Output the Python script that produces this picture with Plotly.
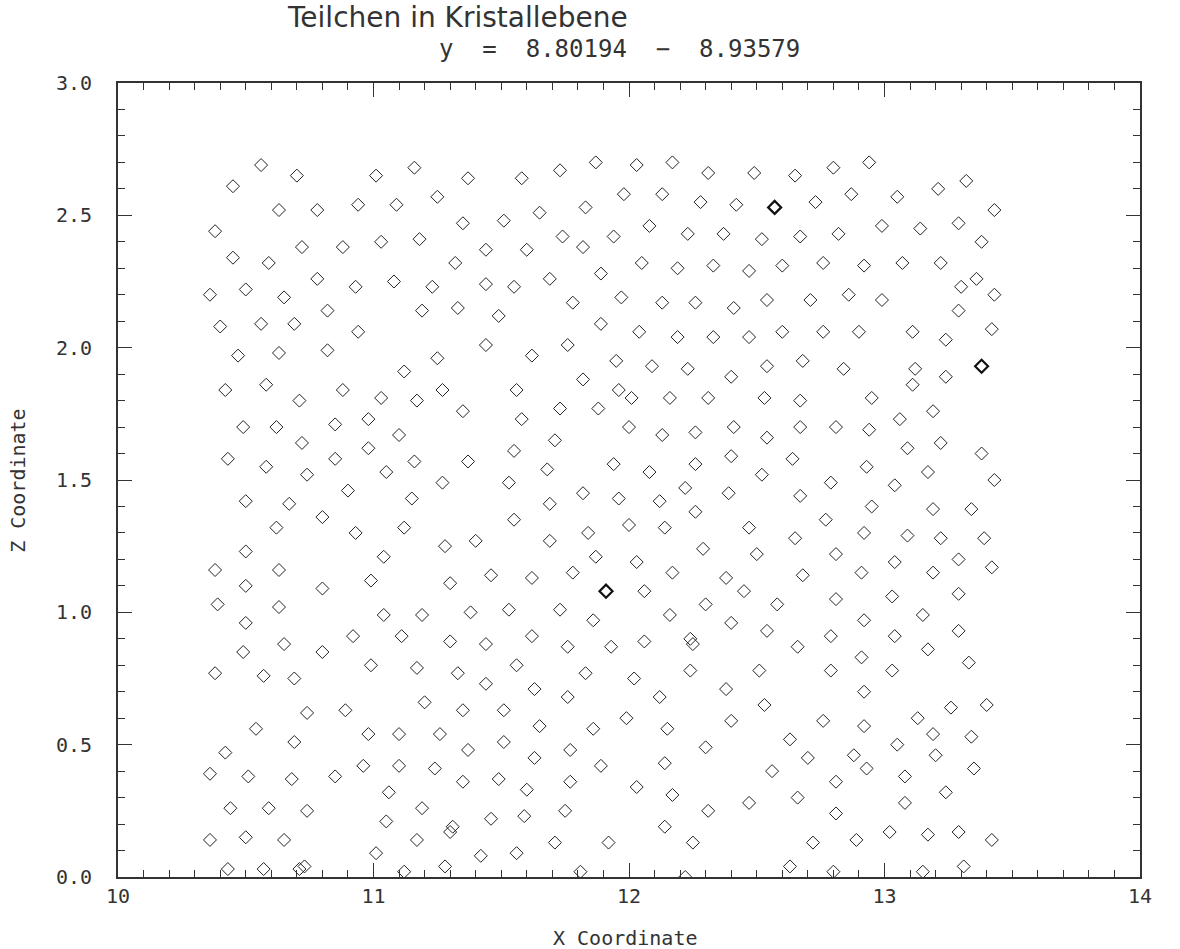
import plotly.graph_objects as go

# Particle positions in the crystal plane (x, z)
x_coord = [
    10.56, 10.45, 10.70, 11.01, 10.63, 10.78, 10.94, 11.09, 10.38, 10.72, 10.88, 11.03, 10.45, 10.59, 10.78, 10.93, 11.08,
    10.36, 10.50, 10.65, 10.82, 10.40, 10.56, 10.69, 10.94, 10.47, 10.63, 10.82, 10.42, 10.58, 10.88, 11.03, 10.71, 11.12,
    11.16, 11.37, 11.58, 11.73, 11.87, 11.25, 11.35, 11.51, 11.65, 11.83, 11.18, 11.44, 11.60, 11.74, 11.82, 11.32, 11.23,
    11.44, 11.55, 11.69, 11.89, 11.19, 11.33, 11.49, 11.78, 11.89, 11.44, 11.25, 11.62, 11.76, 11.27, 11.56, 11.82, 11.17,
    12.03, 12.17, 12.31, 12.49, 12.65, 11.98, 12.13, 12.28, 12.42, 11.94, 12.08, 12.23, 12.37, 12.52, 12.67, 12.05, 12.19,
    12.33, 12.47, 12.60, 11.97, 12.13, 12.26, 12.41, 12.54, 12.04, 12.19, 12.33, 12.47, 12.60, 11.95, 12.09, 12.23, 12.40,
    12.54, 12.68, 11.96, 12.01, 12.16, 12.31, 12.53, 12.67,
    12.80, 12.94, 13.32, 13.21, 12.73, 12.87, 13.05, 13.43, 12.82, 12.99, 13.14, 13.29, 13.38, 12.76, 12.92, 13.07, 13.22,
    13.36, 13.30, 13.43, 12.71, 12.86, 12.99, 13.29, 12.76, 12.90, 13.11, 13.24, 13.42, 12.84, 13.12, 13.11, 13.24, 12.95,
    10.49, 10.62, 10.85, 10.98, 11.10, 10.72, 10.98, 10.43, 10.58, 10.74, 10.85, 11.05, 10.90, 10.50, 10.67, 10.80, 10.62,
    10.93, 11.12, 10.50, 11.04, 10.38, 10.63, 10.50, 10.80, 10.99, 10.39, 10.63, 11.04, 10.50, 10.92, 11.11, 10.65, 10.49,
    11.35, 11.58, 11.73, 11.88, 11.71, 11.16, 11.37, 11.55, 11.68, 11.27, 11.53, 11.82, 11.15, 11.69, 11.55, 11.28, 11.40,
    11.69, 11.84, 11.87, 11.46, 11.30, 11.62, 11.78, 11.19, 11.38, 11.53, 11.73, 11.86, 11.30, 11.44, 11.62, 11.76,
    12.00, 12.13, 12.26, 12.41, 12.54, 12.67, 11.94, 12.08, 12.26, 12.40, 12.52, 12.64, 11.96, 12.12, 12.22, 12.39, 12.67,
    12.00, 12.14, 12.26, 12.47, 12.65, 12.03, 12.29, 12.50, 12.17, 12.38, 12.06, 12.45, 12.58, 12.68, 12.30, 12.16, 12.40,
    12.54, 12.06, 12.24, 12.25, 11.93,
    13.19, 13.06, 12.81, 12.94, 13.09, 13.22, 13.38, 12.93, 13.17, 12.79, 13.04, 13.43, 12.95, 13.19, 13.34, 12.77, 12.92,
    13.09, 13.22, 13.39, 12.81, 13.04, 13.29, 12.91, 13.19, 13.42, 12.81, 13.03, 13.29, 13.15, 12.92, 12.79, 13.04, 13.29,
    10.80, 10.99, 10.38, 10.57, 10.69, 10.74, 10.89, 10.54, 10.69, 10.98, 11.10, 10.42, 10.36, 10.51, 10.68, 10.85, 10.96,
    11.10, 11.06, 10.44, 10.59, 10.74, 11.05, 10.36, 10.50, 10.65, 11.01, 10.43, 10.57, 10.71, 10.73,
    11.17, 11.33, 11.56, 11.44, 11.63, 11.83, 11.76, 11.20, 11.35, 11.51, 11.65, 11.86, 11.26, 11.37, 11.51, 11.63, 11.77,
    11.89, 11.24, 11.35, 11.49, 11.60, 11.77, 11.19, 11.30, 11.31, 11.46, 11.59, 11.75, 11.17, 11.42, 11.56, 11.71, 11.12,
    11.28, 11.81,
    12.66, 12.02, 12.12, 12.24, 12.38, 12.51, 12.53, 11.99, 12.15, 12.40, 12.63, 12.30, 12.14, 12.56, 12.03, 12.17, 12.31,
    12.47, 12.66, 12.14, 11.92, 12.25, 12.63, 12.22,
    13.17, 12.91, 12.79, 13.03, 13.33, 12.92, 13.26, 13.40, 12.76, 12.92, 13.13, 13.19, 13.34, 13.05, 13.20, 12.70, 12.88,
    12.93, 13.35, 12.81, 13.08, 13.24, 12.81, 13.08, 12.72, 12.89, 13.02, 13.17, 13.29, 13.42, 12.80, 13.15, 13.31,
]
z_coord = [
    2.69, 2.61, 2.65, 2.65, 2.52, 2.52, 2.54, 2.54, 2.44, 2.38, 2.38, 2.40, 2.34, 2.32, 2.26, 2.23, 2.25,
    2.20, 2.22, 2.19, 2.14, 2.08, 2.09, 2.09, 2.06, 1.97, 1.98, 1.99, 1.84, 1.86, 1.84, 1.81, 1.80, 1.91,
    2.68, 2.64, 2.64, 2.67, 2.70, 2.57, 2.47, 2.48, 2.51, 2.53, 2.41, 2.37, 2.37, 2.42, 2.38, 2.32, 2.23,
    2.24, 2.23, 2.26, 2.28, 2.14, 2.15, 2.12, 2.17, 2.09, 2.01, 1.96, 1.97, 2.01, 1.84, 1.84, 1.88, 1.80,
    2.69, 2.70, 2.66, 2.66, 2.65, 2.58, 2.58, 2.55, 2.54, 2.42, 2.46, 2.43, 2.43, 2.41, 2.42, 2.32, 2.30,
    2.31, 2.29, 2.31, 2.19, 2.17, 2.17, 2.15, 2.18, 2.06, 2.04, 2.04, 2.04, 2.06, 1.95, 1.93, 1.92, 1.89,
    1.93, 1.95, 1.84, 1.81, 1.81, 1.81, 1.81, 1.80,
    2.68, 2.70, 2.63, 2.60, 2.55, 2.58, 2.57, 2.52, 2.43, 2.46, 2.45, 2.47, 2.40, 2.32, 2.31, 2.32, 2.32,
    2.26, 2.23, 2.20, 2.18, 2.20, 2.18, 2.14, 2.06, 2.06, 2.06, 2.03, 2.07, 1.92, 1.92, 1.86, 1.89, 1.81,
    1.70, 1.70, 1.71, 1.73, 1.67, 1.64, 1.62, 1.58, 1.55, 1.52, 1.58, 1.53, 1.46, 1.42, 1.41, 1.36, 1.32,
    1.30, 1.32, 1.23, 1.21, 1.16, 1.16, 1.10, 1.09, 1.12, 1.03, 1.02, 0.99, 0.96, 0.91, 0.91, 0.88, 0.85,
    1.76, 1.73, 1.77, 1.77, 1.65, 1.57, 1.57, 1.61, 1.54, 1.49, 1.49, 1.45, 1.43, 1.41, 1.35, 1.25, 1.27,
    1.27, 1.30, 1.21, 1.14, 1.11, 1.13, 1.15, 0.99, 1.00, 1.01, 1.01, 0.97, 0.89, 0.88, 0.91, 0.87,
    1.70, 1.67, 1.68, 1.70, 1.66, 1.70, 1.56, 1.53, 1.56, 1.59, 1.52, 1.58, 1.43, 1.42, 1.47, 1.45, 1.44,
    1.33, 1.32, 1.38, 1.32, 1.28, 1.19, 1.24, 1.22, 1.15, 1.13, 1.08, 1.08, 1.03, 1.14, 1.03, 0.99, 0.96,
    0.93, 0.89, 0.90, 0.88, 0.87,
    1.76, 1.73, 1.70, 1.69, 1.62, 1.64, 1.60, 1.55, 1.53, 1.49, 1.48, 1.50, 1.40, 1.39, 1.39, 1.35, 1.30,
    1.29, 1.28, 1.28, 1.22, 1.19, 1.20, 1.15, 1.15, 1.17, 1.05, 1.06, 1.07, 0.99, 0.97, 0.91, 0.91, 0.93,
    0.85, 0.80, 0.77, 0.76, 0.75, 0.62, 0.63, 0.56, 0.51, 0.54, 0.54, 0.47, 0.39, 0.38, 0.37, 0.38, 0.42,
    0.42, 0.32, 0.26, 0.26, 0.25, 0.21, 0.14, 0.15, 0.14, 0.09, 0.03, 0.03, 0.03, 0.04,
    0.79, 0.77, 0.80, 0.73, 0.71, 0.77, 0.68, 0.66, 0.63, 0.63, 0.57, 0.56, 0.54, 0.48, 0.51, 0.45, 0.48,
    0.42, 0.41, 0.36, 0.37, 0.33, 0.36, 0.26, 0.17, 0.19, 0.22, 0.23, 0.25, 0.14, 0.08, 0.09, 0.13, 0.02,
    0.04, 0.02,
    0.87, 0.75, 0.68, 0.78, 0.71, 0.78, 0.65, 0.60, 0.56, 0.59, 0.52, 0.49, 0.43, 0.40, 0.34, 0.31, 0.25,
    0.28, 0.30, 0.19, 0.13, 0.13, 0.04, 0.00,
    0.86, 0.83, 0.78, 0.78, 0.81, 0.70, 0.64, 0.65, 0.59, 0.57, 0.60, 0.54, 0.53, 0.50, 0.46, 0.45, 0.46,
    0.41, 0.41, 0.36, 0.38, 0.32, 0.24, 0.28, 0.13, 0.14, 0.17, 0.16, 0.17, 0.14, 0.02, 0.02, 0.04,
]

# Doubly occupied sites, drawn with a heavier outline
double_x = [12.57, 13.38, 11.91]
double_z = [2.53, 1.93, 1.08]

x_ticks = [10, 11, 12, 13, 14]
z_ticks = [0.0, 0.5, 1.0, 1.5, 2.0, 2.5, 3.0]

title_text = "Teilchen in Kristallebene"
subtitle_text = "y  =  8.80194  \u2212  8.93579"

FONT = "DejaVu Sans"
MONO = "DejaVu Sans Mono"
INK = "#222222"
TEXT = "#333333"

fig = go.Figure()
fig.add_trace(go.Scatter(
    x=x_coord, y=z_coord, mode="markers",
    marker=dict(symbol="diamond-open", size=10, color=INK, line=dict(width=1, color=INK)),
    showlegend=False, hoverinfo="x+y",
))
fig.add_trace(go.Scatter(
    x=double_x, y=double_z, mode="markers",
    marker=dict(symbol="diamond-open", size=10, color="#111111", line=dict(width=2.2, color="#111111")),
    showlegend=False, hoverinfo="x+y",
))

axis_common = dict(
    showgrid=False, zeroline=False,
    showline=True, linecolor="#333333", linewidth=1.8, mirror="allticks",
    ticks="inside", ticklen=14, tickwidth=1.3, tickcolor="#333333",
    tickfont=dict(family=MONO, size=20, color=TEXT),
)

fig.update_xaxes(
    range=[10, 14], tickvals=x_ticks, ticktext=[str(v) for v in x_ticks],
    minor=dict(dtick=0.1, ticks="inside", ticklen=7, tickwidth=1.1, tickcolor="#333333"),
    ticklabelstandoff=0,
    **axis_common,
)
fig.update_yaxes(
    range=[0, 3], tickvals=z_ticks, ticktext=[f"{v:.1f}" for v in z_ticks],
    minor=dict(dtick=0.1, ticks="inside", ticklen=7, tickwidth=1.1, tickcolor="#333333"),
    ticklabelstandoff=20,
    **axis_common,
)

annotations = [
    dict(text=title_text, x=0.332, y=1.082, xref="paper", yref="paper",
         showarrow=False, xanchor="center", yanchor="middle",
         font=dict(family=FONT, size=28, color=TEXT)),
    dict(text=subtitle_text, x=0.491, y=1.043, xref="paper", yref="paper",
         showarrow=False, xanchor="center", yanchor="middle",
         font=dict(family=MONO, size=24, color=TEXT)),
    dict(text="X Coordinate", x=0.497, y=-0.077, xref="paper", yref="paper",
         showarrow=False, xanchor="center", yanchor="middle",
         font=dict(family=MONO, size=20, color=TEXT)),
    dict(text="Z Coordinate", x=-0.098, y=0.5, xref="paper", yref="paper",
         showarrow=False, xanchor="center", yanchor="middle", textangle=-90,
         font=dict(family=MONO, size=20, color=TEXT)),
]

fig.update_layout(
    width=1180, height=949,
    margin=dict(l=118, r=40, t=83, b=72),
    paper_bgcolor="white", plot_bgcolor="white",
    annotations=annotations,
)

fig.write_html("out.html")
